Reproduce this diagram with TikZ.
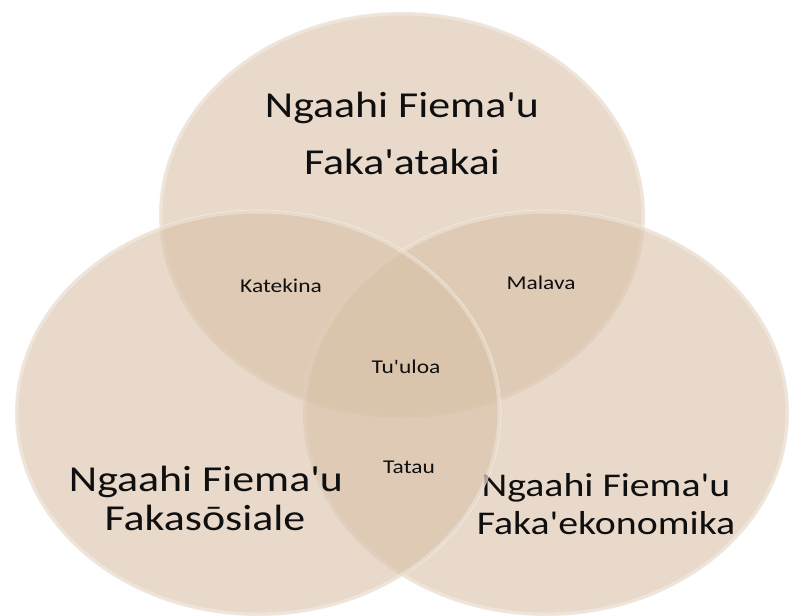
\documentclass[tikz,border=0pt]{standalone}
\usepackage{fontspec}
\setmainfont{Carlito}
\newfontfamily\setFont[FakeStretch=1.2]{Carlito}
\definecolor{setTan}{RGB}{217,192,167}
\definecolor{labelInk}{RGB}{15,15,15}
\newcommand{\setRx}[0]{243}
\newcommand{\setRy}[0]{203}
% one set of the diagram: filled ellipse with a light rim
\newcommand{\drawSet}[2]{%
  \fill[setShape] (#1,#2) ellipse [x radius=\setRx, y radius=\setRy];
  \begin{scope}
    \clip (#1,#2) ellipse [x radius=\setRx, y radius=\setRy];
    \draw[setRim] (#1,#2) ellipse [x radius=\setRx, y radius=\setRy];
  \end{scope}
  \draw[setEdge] (#1,#2) ellipse [x radius=\setRx, y radius=\setRy];
}

\begin{document}
\begin{tikzpicture}[x=1bp, y=-1bp]
  \tikzset{
    setShape/.style={fill=setTan, fill opacity=0.6},
    setRim/.style={draw=white, opacity=0.3, line width=7bp},
    setEdge/.style={draw=white, opacity=0.5, line width=0.6bp},
    bigLabel/.style={anchor=base, inner sep=0pt, text=labelInk,
      font=\setFont\fontsize{36.7}{40}\selectfont},
    sideLabel/.style={bigLabel, font=\setFont\fontsize{33.3}{38}\selectfont},
    smallLabel/.style={anchor=base, inner sep=0pt, text=labelInk,
      font=\setFont\fontsize{19.6}{22}\selectfont}
  }
  \fill[white] (0,0) rectangle (789,616);
  \useasboundingbox (0,0) rectangle (789,616);
  \clip (0,0) rectangle (789,616);

  % top set
  \drawSet{402}{215}
  \node[bigLabel] (top1) at (402,118) {Ngaahi Fiema'u};
  \node[bigLabel] (top2) at (402,175) {Faka'atakai};

  % right set
  \drawSet{546}{413}
  \node[sideLabel] (right1) at (606,496) {Ngaahi Fiema'u};
  \node[sideLabel] (right2) at (606,534) {Faka'ekonomika};

  % left set
  \drawSet{258}{413}
  \node[bigLabel] (left1) at (206,491) {Ngaahi Fiema'u};
  \node[bigLabel] (left2) at (205,530) {Fakasōsiale};

  % overlaps
  \node[smallLabel] (katekina) at (281,292) {Katekina};
  \node[smallLabel] (malava) at (541,289) {Malava};
  \node[smallLabel] (tuuloa) at (406,373) {Tu'uloa};
  \node[smallLabel] (tatau) at (409,473) {Tatau};
\end{tikzpicture}
\end{document}
